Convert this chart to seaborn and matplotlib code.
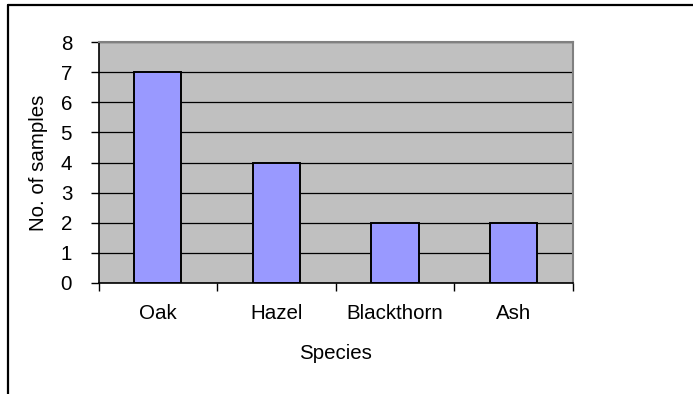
import matplotlib
matplotlib.use("Agg")
import matplotlib.pyplot as plt
import seaborn as sns
import pandas as pd
from matplotlib.lines import Line2D
from matplotlib.ticker import FixedLocator

species = ["Oak", "Hazel", "Blackthorn", "Ash"]
samples = [7, 4, 2, 2]
y_ticks = [0, 1, 2, 3, 4, 5, 6, 7, 8]

df = pd.DataFrame({"Species": species, "No. of samples": samples})

sns.set_theme(style="white")
plt.rcParams["font.family"] = ["Liberation Sans", "DejaVu Sans"]

FS = 14.8
W, H = 693, 394
fig = plt.figure(figsize=(W / 100, H / 100), dpi=100)
ax = fig.add_axes([98.5 / W, 1 - 283 / H, (572.7 - 98.5) / W, (283 - 42) / H])
ax.set_facecolor("#C0C0C0")
ax.set_axisbelow(True)

sns.barplot(data=df, x="Species", y="No. of samples", order=species,
            color="#9999FF", edgecolor="black", linewidth=1.4,
            width=0.4, saturation=1, ax=ax)

ax.set_xlim(-0.5, len(species) - 0.5)
ax.set_ylim(0, 8)
ax.yaxis.set_major_locator(FixedLocator(y_ticks))
ax.grid(axis="y", color="black", linewidth=0.9)
ax.grid(axis="x", visible=False)

# category labels at centers, tick marks at category boundaries
ax.set_xticks(range(len(species)))
ax.set_xticklabels(species)
ax.xaxis.set_minor_locator(FixedLocator([i - 0.5 for i in range(len(species) + 1)]))
ax.tick_params(axis="x", which="major", length=0, pad=15, labelsize=FS, colors="black")
ax.tick_params(axis="x", which="minor", length=6, width=1, color="black", bottom=True)
ax.tick_params(axis="y", which="major", length=6, width=1, color="black", left=True,
               pad=13, labelsize=FS, labelcolor="black")

for side in ["top", "right"]:
    ax.spines[side].set_color("#808080")
    ax.spines[side].set_linewidth(1.5)
for side in ["left", "bottom"]:
    ax.spines[side].set_color("black")
    ax.spines[side].set_linewidth(1.2)

ax.set_xlabel("Species", fontsize=FS, color="black", labelpad=15)
ax.set_ylabel("No. of samples", fontsize=FS, color="black", labelpad=9)

# chart frame (top and left edges)
fig.add_artist(Line2D([8 / W, 1.0], [1 - 5 / H, 1 - 5 / H], transform=fig.transFigure,
                      color="black", linewidth=1.6))
fig.add_artist(Line2D([8 / W, 8 / W], [0.0, 1 - 5 / H], transform=fig.transFigure,
                      color="black", linewidth=1.6))

fig.savefig("out.png", dpi=100)
